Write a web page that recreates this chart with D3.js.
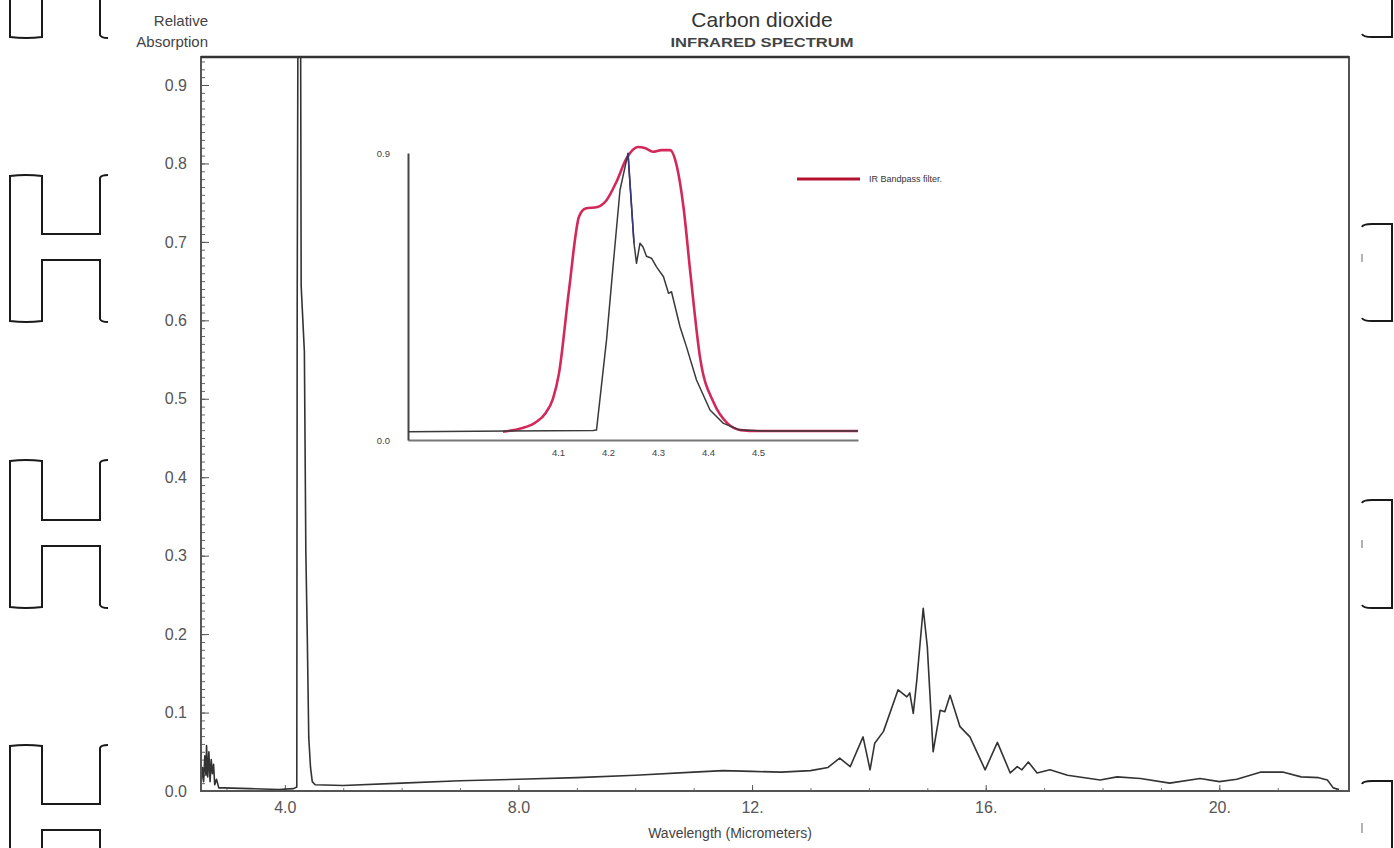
<!DOCTYPE html>
<html>
<head>
<meta charset="utf-8">
<script src="https://cdn.jsdelivr.net/npm/d3@7"></script>
<style>
  html, body { margin: 0; padding: 0; background: #ffffff; }
  svg text { font-family: "Liberation Sans", Arial, Helvetica, sans-serif; }
</style>
</head>
<body>
<svg id="chart" width="1394" height="848"></svg>
<script>
// ---------------- data ----------------
const mainWavelength = [2.565, 2.59, 2.61, 2.63, 2.65, 2.66, 2.68, 2.70, 2.72, 2.74,
  2.76, 2.78, 2.80, 2.83, 2.87, 2.95, 3.4, 3.9, 4.15, 4.205,
  4.212, 4.225, 4.27, 4.28, 4.335, 4.36, 4.385, 4.41, 4.44, 4.47,
  4.52, 5.0, 6.0, 7.0, 8.0, 9.0, 10.0, 11.0, 11.5, 12.0,
  12.5, 13.0, 13.3, 13.5, 13.68, 13.9, 14.02, 14.1, 14.25, 14.5,
  14.65, 14.7, 14.76, 14.82, 14.93, 15.0, 15.1, 15.22, 15.3, 15.39,
  15.56, 15.73, 15.99, 16.2, 16.42, 16.54, 16.62, 16.73, 16.88, 17.1,
  17.4, 17.96, 18.25, 18.65, 19.15, 19.67, 20.0, 20.3, 20.7, 21.1,
  21.4, 21.7, 21.85, 21.95, 22.05];
const mainAbsorption = [0.008, 0.03, 0.012, 0.045, 0.02, 0.058, 0.018, 0.05, 0.012, 0.04,
  0.022, 0.034, 0.008, 0.015, 0.004, 0.004, 0.003, 0.002, 0.003, 0.005,
  0.62, 0.98, 0.98, 0.644, 0.56, 0.305, 0.195, 0.068, 0.03, 0.012,
  0.008, 0.007, 0.01, 0.013, 0.015, 0.017, 0.02, 0.024, 0.026, 0.025,
  0.024, 0.026, 0.03, 0.042, 0.031, 0.069, 0.027, 0.061, 0.076, 0.129,
  0.12, 0.125, 0.099, 0.141, 0.233, 0.184, 0.05, 0.103, 0.101, 0.122,
  0.082, 0.069, 0.027, 0.062, 0.023, 0.031, 0.027, 0.037, 0.023, 0.027,
  0.02, 0.014, 0.018, 0.016, 0.01, 0.016, 0.012, 0.015, 0.024, 0.024,
  0.018, 0.017, 0.014, 0.004, 0.002];

const insetWavelength = [3.80, 4.17, 4.177, 4.197, 4.21, 4.224, 4.24, 4.252, 4.257, 4.264,
  4.27, 4.277, 4.287, 4.297, 4.311, 4.321, 4.327, 4.344, 4.357, 4.377,
  4.404, 4.431, 4.464, 4.52, 4.70];
const insetAbsorption = [0.026, 0.03, 0.031, 0.313, 0.543, 0.784, 0.899, 0.617, 0.554, 0.617,
  0.605, 0.576, 0.57, 0.543, 0.512, 0.46, 0.465, 0.355, 0.292, 0.188,
  0.094, 0.052, 0.031, 0.028, 0.028];

const filterWavelength = [3.99, 4.027, 4.055, 4.075, 4.09, 4.102, 4.122, 4.142, 4.155, 4.179,
  4.197, 4.217, 4.237, 4.26, 4.275, 4.29, 4.307, 4.324, 4.338, 4.351,
  4.365, 4.384, 4.412, 4.439, 4.466, 4.50, 4.70];
const filterTransmission = [0.026, 0.037, 0.055, 0.084, 0.13, 0.209, 0.47, 0.70, 0.726, 0.731,
  0.752, 0.81, 0.883, 0.919, 0.915, 0.904, 0.909, 0.909, 0.856, 0.73,
  0.52, 0.26, 0.115, 0.052, 0.031, 0.028, 0.028];

const xTickValues = [4, 8, 12, 16, 20];
const xTickLabels = ["4.0", "8.0", "12.", "16.", "20."];
const yTickValues = [0, 0.1, 0.2, 0.3, 0.4, 0.5, 0.6, 0.7, 0.8, 0.9];
const yTickLabels = ["0.0", "0.1", "0.2", "0.3", "0.4", "0.5", "0.6", "0.7", "0.8", "0.9"];
const insetXTickValues = [4.1, 4.2, 4.3, 4.4, 4.5];
const insetYTickLabels = ["0.0", "0.9"];

// ---------------- layout ----------------
const svg = d3.select("#chart");
const plot = { left: 201, right: 1349, top: 57, bottom: 791 };
const x = d3.scaleLinear().domain([2.565, 22.22]).range([plot.left, plot.right]);
const y = d3.scaleLinear().domain([0, 0.9]).range([plot.bottom, 85]);

// binder-hole decorations of the scanned page
const deco = svg.append("g").attr("fill", "none").attr("stroke", "#1a1a1a").attr("stroke-width", 2);
function hShape(top, b1, b2, bot) {
  return `M108,${top - 1} Q101,${top - 1} 100,${top + 2} L100,${b1} L42,${b1} L42,${top} Q26,${top - 2} 10,${top} ` +
         `L10,${bot} Q26,${bot + 2} 42,${bot} L42,${b2} L100,${b2} L100,${bot - 2} Q101,${bot + 1} 108,${bot + 1}`;
}
deco.append("path").attr("d", "M10,0 L10,37 Q26,39 42,37 L42,0 M100,0 L100,35 Q101,38 108,38");
deco.append("path").attr("d", hShape(176, 234, 260, 321));
deco.append("path").attr("d", hShape(461, 520, 546, 607));
deco.append("path").attr("d", hShape(746, 804, 830, 900));
function rBracket(top, bot) {
  return `M1362,${top + 3} Q1363,${top} 1372,${top} L1392,${top} L1392,${bot} L1372,${bot} Q1363,${bot} 1362,${bot - 3}`;
}
deco.append("path").attr("d", "M1392,0 L1392,37 L1372,37 Q1363,37 1362,34");
deco.append("path").attr("d", rBracket(224, 321));
deco.append("path").attr("d", rBracket(500, 608));
deco.append("path").attr("d", rBracket(781, 900));
[[1362, 254, 262], [1362, 540, 548], [1362, 823, 833]].forEach(d => {
  deco.append("line").attr("x1", d[0]).attr("x2", d[0]).attr("y1", d[1]).attr("y2", d[2])
    .attr("stroke-width", 1).attr("stroke", "#666");
});

// titles
svg.append("text").attr("x", 762).attr("y", 27).attr("text-anchor", "middle")
  .attr("font-size", 21).attr("fill", "#333").text("Carbon dioxide");
svg.append("text").attr("x", 762).attr("y", 47).attr("text-anchor", "middle")
  .attr("font-size", 13.5).attr("font-weight", "bold").attr("fill", "#444")
  .attr("textLength", 183).attr("lengthAdjust", "spacingAndGlyphs").text("INFRARED SPECTRUM");
svg.append("text").attr("x", 208).attr("y", 26).attr("text-anchor", "end")
  .attr("font-size", 15).attr("fill", "#444").text("Relative");
svg.append("text").attr("x", 208).attr("y", 47).attr("text-anchor", "end")
  .attr("font-size", 15).attr("fill", "#444").text("Absorption");
svg.append("text").attr("x", 730).attr("y", 838).attr("text-anchor", "middle")
  .attr("font-size", 14).attr("fill", "#444").text("Wavelength (Micrometers)");

// clip for plot area
svg.append("defs").append("clipPath").attr("id", "plotClip")
  .append("rect").attr("x", plot.left).attr("y", plot.top)
  .attr("width", plot.right - plot.left).attr("height", plot.bottom - plot.top);

// y axis minor ticks
const yMinor = svg.append("g").attr("transform", `translate(${plot.left},0)`)
  .call(d3.axisLeft(y).tickValues(d3.range(0, 94).map(i => i / 100)).tickSize(-4).tickFormat(""));
yMinor.select(".domain").remove();
yMinor.selectAll("line").attr("stroke", "#666");
// y axis major
const yAxis = svg.append("g").attr("transform", `translate(${plot.left},0)`)
  .call(d3.axisLeft(y).tickValues(yTickValues).tickSize(-8).tickPadding(14)
    .tickFormat((d, i) => yTickLabels[i]));
yAxis.select(".domain").remove();
yAxis.selectAll("line").attr("stroke", "#555");
yAxis.selectAll("text").attr("font-size", 16).attr("fill", "#555")
  .attr("font-family", "Liberation Sans, Arial, sans-serif");

// x axis minor
const xMinor = svg.append("g").attr("transform", `translate(0,${plot.bottom})`)
  .call(d3.axisBottom(x).tickValues(d3.range(3, 23)).tickSize(-3).tickFormat(""));
xMinor.select(".domain").remove();
xMinor.selectAll("line").attr("stroke", "#777");
const xAxis = svg.append("g").attr("transform", `translate(0,${plot.bottom})`)
  .call(d3.axisBottom(x).tickValues(xTickValues).tickSize(-6).tickPadding(11)
    .tickFormat((d, i) => xTickLabels[i]));
xAxis.select(".domain").remove();
xAxis.selectAll("line").attr("stroke", "#555");
xAxis.selectAll("text").attr("font-size", 16).attr("fill", "#555")
  .attr("font-family", "Liberation Sans, Arial, sans-serif");

// main spectrum
const mainData = mainWavelength.map((w, i) => [w, mainAbsorption[i]]);
svg.append("path").datum(mainData)
  .attr("clip-path", "url(#plotClip)")
  .attr("fill", "none").attr("stroke", "#333").attr("stroke-width", 1.6)
  .attr("stroke-linejoin", "round")
  .attr("d", d3.line().x(d => x(d[0])).y(d => y(d[1])));

// frame
svg.append("rect").attr("x", plot.left).attr("y", plot.top)
  .attr("width", plot.right - plot.left).attr("height", plot.bottom - plot.top)
  .attr("fill", "none").attr("stroke", "#555").attr("stroke-width", 2);
svg.append("line").attr("x1", plot.left).attr("x2", plot.right).attr("y1", plot.top).attr("y2", plot.top)
  .attr("stroke", "#333").attr("stroke-width", 2.5);

// ---------------- inset ----------------
const xi = d3.scaleLinear().domain([3.8, 4.7]).range([408, 858]);
const yi = d3.scaleLinear().domain([0, 0.9]).range([440, 153]);

const insetX = svg.append("g").attr("transform", "translate(0,440)")
  .call(d3.axisBottom(xi).tickValues(insetXTickValues).tickSize(0).tickPadding(9)
    .tickFormat(d3.format(".1f")));
insetX.select(".domain").attr("stroke", "#777").attr("stroke-width", 2);
insetX.selectAll("text").attr("font-size", 9.5).attr("fill", "#444")
  .attr("font-family", "Liberation Sans, Arial, sans-serif");

const insetY = svg.append("g").attr("transform", "translate(408,0)")
  .call(d3.axisLeft(yi).tickValues([0, 0.9]).tickSize(0).tickPadding(18)
    .tickFormat((d, i) => insetYTickLabels[i]));
insetY.select(".domain").attr("stroke", "#444").attr("stroke-width", 2);
insetY.selectAll("text").attr("font-size", 9.5).attr("fill", "#444")
  .attr("font-family", "Liberation Sans, Arial, sans-serif");

const filterData = filterWavelength.map((w, i) => [w, filterTransmission[i]]);
svg.append("path").datum(filterData)
  .attr("fill", "none").attr("stroke", "#d2285a").attr("stroke-width", 2.6)
  .attr("d", d3.line().curve(d3.curveMonotoneX).x(d => xi(d[0])).y(d => yi(d[1])));

const insetData = insetWavelength.map((w, i) => [w, insetAbsorption[i]]);
svg.append("path").datum(insetData)
  .attr("fill", "none").attr("stroke", "#3a3a3a").attr("stroke-width", 1.5)
  .attr("stroke-linejoin", "round")
  .attr("d", d3.line().x(d => xi(d[0])).y(d => yi(d[1])));
// falling edge right after the peak is drawn in dark blue in the reference
svg.append("path").datum(insetData.slice(6, 8))
  .attr("fill", "none").attr("stroke", "#3b3582").attr("stroke-width", 1.6)
  .attr("d", d3.line().x(d => xi(d[0])).y(d => yi(d[1])));

// legend
svg.append("line").attr("x1", 797).attr("x2", 860).attr("y1", 179).attr("y2", 179)
  .attr("stroke", "#b3122e").attr("stroke-width", 3);
svg.append("text").attr("x", 869).attr("y", 182).attr("font-size", 9)
  .attr("fill", "#333").text("IR Bandpass filter.");
</script>
</body>
</html>
